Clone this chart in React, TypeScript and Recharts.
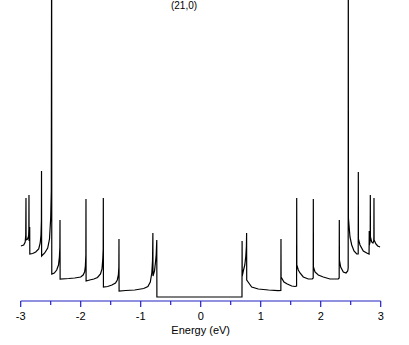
import React from 'react';
import { LineChart, Line, XAxis, YAxis } from 'recharts';

// Density of states of a (21,0) nanotube (arbitrary units)
const valenceEnergy = [
  -3.0, -2.95, -2.925, -2.916, -2.912, -2.91, -2.885, -2.868, -2.864, -2.862, -2.86, -2.852, -2.85, -2.848,
  -2.8, -2.75, -2.7, -2.675, -2.662, -2.655, -2.653, -2.651, -2.6, -2.55, -2.52, -2.5, -2.49, -2.484, -2.482,
  -2.44, -2.4, -2.37, -2.355, -2.347, -2.345, -2.343, -2.2, -2.1, -2.0, -1.96, -1.935, -1.922, -1.914, -1.912,
  -1.91, -1.85, -1.78, -1.72, -1.67, -1.645, -1.632, -1.625, -1.623, -1.621, -1.55, -1.48, -1.42, -1.39, -1.372,
  -1.364, -1.362, -1.36, -1.25, -1.1, -0.95, -0.88, -0.84, -0.815, -0.803, -0.797, -0.795, -0.77, -0.755, -0.742,
  -0.732, -0.73,
];
const valenceDos = [
  5.5, 5.6, 5.9, 6.6, 10.3, 6.1, 6.2, 6.5, 7.2, 10.6, 6.0, 6.2, 7.4, 4.7,
  4.75, 4.9, 5.2, 5.8, 6.6, 8.0, 13.0, 4.5, 4.8, 5.3, 6.2, 8.3, 11.0, 40, 2.7,
  2.8, 3.1, 3.6, 4.4, 5.4, 8.1, 2.2, 2.25, 2.3, 2.4, 2.6, 2.9, 3.5, 4.6, 10.2,
  2.0, 2.1, 2.2, 2.35, 2.7, 3.2, 4.2, 5.2, 10.3, 1.4, 1.45, 1.6, 1.8, 2.1, 2.6,
  3.4, 6.2, 1.0, 1.05, 1.1, 1.25, 1.45, 1.9, 2.8, 4.0, 6.8, 2.5, 3.0, 3.8, 4.6,
  6.1, 0.4,
];
const gapEnergy = [0.0, 0.688];
const gapDos = [0.4, 0.4];
const conductionEnergy = [
  0.69, 0.692, 0.71, 0.735, 0.752, 0.762, 0.765, 0.767, 0.79, 0.85, 0.96, 1.13, 1.29, 1.336, 1.338, 1.34,
  1.388, 1.443, 1.517, 1.572, 1.598, 1.6, 1.602, 1.627, 1.655, 1.71, 1.793, 1.86, 1.875, 1.877, 1.879,
  1.905, 1.96, 2.043, 2.155, 2.293, 2.308, 2.31, 2.312, 2.333, 2.377, 2.422, 2.45, 2.458, 2.46, 2.462,
  2.488, 2.517, 2.555, 2.6, 2.625, 2.627, 2.629, 2.655, 2.71, 2.767, 2.806, 2.809, 2.811, 2.822, 2.825,
  2.827, 2.829, 2.85, 2.87, 2.884, 2.886, 2.888, 2.89, 2.92, 2.95, 2.99,
];
const conductionDos = [
  6.0, 2.5, 3.0, 3.6, 4.5, 5.5, 6.8, 2.1, 1.9, 1.4, 1.2, 1.1, 1.03, 1.05, 6.2, 2.4,
  1.9, 1.7, 1.5, 1.45, 1.5, 10.3, 3.6, 3.1, 2.8, 2.4, 2.2, 2.2, 2.3, 10.2, 3.4,
  2.9, 2.6, 2.4, 2.2, 2.2, 2.3, 8.1, 4.1, 3.4, 2.9, 2.8, 3.0, 3.3, 40, 8.3,
  6.4, 5.6, 5.0, 4.7, 4.7, 12.9, 6.2, 5.6, 5.0, 4.8, 4.7, 7.0, 5.6, 5.9, 6.2,
  10.6, 6.4, 5.9, 5.8, 6.0, 6.4, 10.3, 6.1, 5.7, 5.5, 5.4,
];
const xTicks = [-3, -2.5, -2, -1.5, -1, -0.5, 0, 0.5, 1, 1.5, 2, 2.5, 3];
const titleText = '(21,0)';
const xLabelText = 'Energy (eV)';

const zip = (es: number[], ds: number[]) => es.map((e, i) => ({ e, v: ds[i] }));
const data = [
  ...zip(valenceEnergy, valenceDos),
  ...zip(gapEnergy, gapDos),
  ...zip(conductionEnergy, conductionDos),
];

const AXIS_BLUE = '#2222c4';
const FONT = '"Liberation Sans", Arial, sans-serif';

function Tick(props: any) {
  const { x, y, payload } = props;
  const val = payload.value;
  const major = Number.isInteger(val);
  return (
    <g>
      <line x1={x} x2={x} y1={y} y2={y + (major ? 6 : 4)} stroke={AXIS_BLUE} strokeWidth={1.2} />
      {major && (
        <text x={x} y={y + 19} textAnchor="middle" fontSize={11} fill="#000" fontFamily={FONT}>
          {String(val)}
        </text>
      )}
    </g>
  );
}

export default function App() {
  return (
    <div style={{ position: 'absolute', left: 0, top: 0, width: 409, height: 345, background: '#fff' }}>
      <div
        style={{
          position: 'absolute',
          left: 134,
          width: 100,
          top: 1,
          textAlign: 'center',
          fontSize: 10,
          lineHeight: '10px',
          fontFamily: FONT,
          color: '#000',
        }}
      >
        {titleText}
      </div>
      <LineChart width={409} height={345} data={data} margin={{ top: 0, right: 28.3, bottom: 0, left: 20.7 }}>
        <XAxis
          dataKey="e"
          type="number"
          domain={[-3, 3]}
          ticks={xTicks}
          interval={0}
          allowDataOverflow
          stroke={AXIS_BLUE}
          strokeWidth={1.2}
          tickLine={false}
          tickSize={0}
          tickMargin={0}
          height={44}
          tick={(p: any) => <Tick {...p} />}
          label={{ value: xLabelText, position: 'insideBottom', offset: 11, fill: '#000', fontSize: 11, fontFamily: FONT }}
        />
        <YAxis hide domain={[0, 30.1]} allowDataOverflow />
        <Line
          dataKey="v"
          type="linear"
          stroke="#000"
          strokeWidth={1.2}
          dot={false}
          isAnimationActive={false}
        />
      </LineChart>
    </div>
  );
}
